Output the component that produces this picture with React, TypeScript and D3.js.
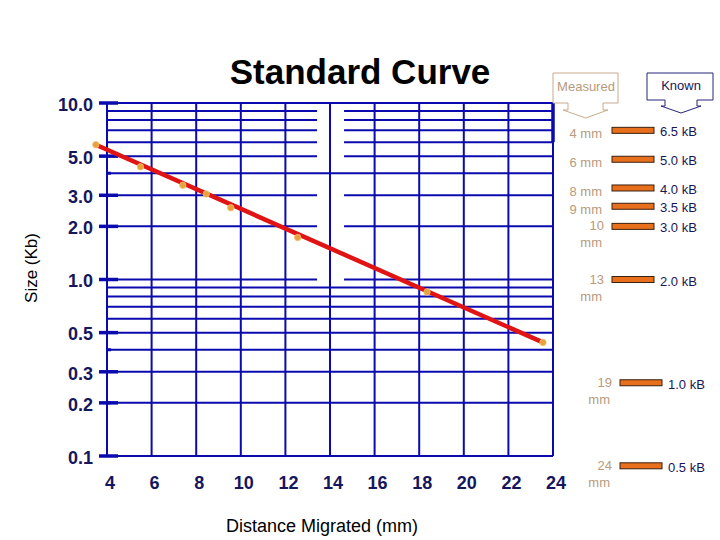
import * as d3 from "d3";

// measured points (distance in mm, size in Kb)
const distance = [3.5, 5.5, 7.4, 8.45, 9.55, 12.55, 18.35, 23.55];
const sizeKb = [5.8, 4.35, 3.42, 3.05, 2.55, 1.73, 0.85, 0.44];

// fitted line ends
const fitDistance = [3.5, 23.55];
const fitSize = [5.8, 0.44];

const xTicks = [4, 6, 8, 10, 12, 14, 16, 18, 20, 22, 24];
const yLabels = ["10.0", "5.0", "3.0", "2.0", "1.0", "0.5", "0.3", "0.2", "0.1"];
const yGrid = [10, 9, 8, 7, 6, 5, 4, 3, 2, 1, 0.9, 0.8, 0.7, 0.6, 0.5, 0.4, 0.3, 0.2, 0.1];
const yGapped = [9, 8, 7, 6, 5, 3, 2, 1];
const yMinor = [4, 0.4, 0.2];

// legend: marker sizes
const measuredLabels = ["4 mm", "6 mm", "8 mm", "9 mm", "10 mm", "13 mm", "19 mm", "24 mm"];
const knownLabels = ["6.5 kB", "5.0 kB", "4.0 kB", "3.5 kB", "3.0 kB", "2.0 kB", "1.0 kB", "0.5 kB"];
const legendAt = [7.0, 4.8, 3.3, 2.6, 2.0, 1.0, 0.26, 0.088];

const FONT = "'Liberation Sans', Arial, sans-serif";
const BLUE = "#0a0aae";
const NAVY = "#16165c";
const TAN = "#b89a7c";

export default function App() {
  const width = 720;
  const height = 540;

  const x = d3.scaleLinear().domain([4, 24]).range([107, 553]);
  const y = d3.scaleLog().domain([0.1, 10]).range([456, 103]);

  const gapL = x(13.42);
  const gapR = x(14.63);

  const fitLine = d3
    .line<number>()
    .x((d) => x(fitDistance[d]))
    .y((d) => y(fitSize[d]));

  return (
    <div style={{ position: "absolute", left: 0, top: 0 }}>
      <svg width={width} height={height} style={{ display: "block", background: "#fff" }}>
        {/* title */}
        <text x={360} y={84} textAnchor="middle" fontFamily={FONT} fontWeight="bold" fontSize={35} fill="#000">
          Standard Curve
        </text>

        {/* horizontal grid */}
        {yGrid.map((v) =>
          yGapped.includes(v) ? (
            <g key={"h" + v}>
              <line x1={x(4)} x2={gapL} y1={y(v)} y2={y(v)} stroke={BLUE} strokeWidth={2} />
              <line x1={gapR} x2={x(24)} y1={y(v)} y2={y(v)} stroke={BLUE} strokeWidth={2} />
            </g>
          ) : (
            <line key={"h" + v} x1={x(4)} x2={x(24)} y1={y(v)} y2={y(v)} stroke={BLUE} strokeWidth={2} />
          )
        )}

        {/* vertical grid */}
        {xTicks.map((t) => (
          <line key={"v" + t} x1={x(t)} x2={x(t)} y1={y(10)} y2={y(0.1)} stroke={BLUE} strokeWidth={2} />
        ))}
        <line x1={x(24)} x2={x(24)} y1={y(10)} y2={y(6)} stroke={BLUE} strokeWidth={3.5} />

        {/* y ticks */}
        {yLabels.map((l) => (
          <g key={"yt" + l}>
            <line x1={x(4) - 8} x2={x(4) + 11} y1={y(+l)} y2={y(+l)} stroke={BLUE} strokeWidth={3.5} />
            <text
              x={93}
              y={y(+l) + 3}
              textAnchor="end"
              dominantBaseline="middle"
              fontFamily={FONT}
              fontWeight="bold"
              fontSize={18}
              fill={NAVY}
            >
              {l}
            </text>
          </g>
        ))}
        {yMinor.map((v) => (
          <line key={"ym" + v} x1={x(4) - 1} x2={x(4) + 4} y1={y(v)} y2={y(v)} stroke={BLUE} strokeWidth={3} />
        ))}

        {/* x tick labels */}
        {xTicks.map((t) => (
          <text
            key={"xt" + t}
            x={x(t) + 3}
            y={489}
            textAnchor="middle"
            fontFamily={FONT}
            fontWeight="bold"
            fontSize={18}
            fill={NAVY}
          >
            {t}
          </text>
        ))}

        {/* axis titles */}
        <text x={322} y={532} textAnchor="middle" fontFamily={FONT} fontSize={18} fill="#000">
          Distance Migrated (mm)
        </text>
        <text
          transform={`translate(37,268) rotate(-90)`}
          textAnchor="middle"
          fontFamily={FONT}
          fontSize={17}
          fill="#000"
        >
          Size (Kb)
        </text>

        {/* fit line and points */}
        <path d={fitLine([0, 1]) ?? ""} stroke="#e01414" strokeWidth={4.5} fill="none" />
        {distance.map((d, i) => (
          <circle key={"p" + i} cx={x(d)} cy={y(sizeKb[i])} r={3.2} fill="#e8a23c" stroke="#f0c070" strokeWidth={0.8} />
        ))}

        {/* legend headers */}
        <path
          d="M553,73 H618 V103 H603 V110 H608 L585.5,118 L563,110 H568 V103 H553 Z"
          fill="#fff"
          stroke="#c8aa8c"
          strokeWidth={1}
        />
        <text x={586} y={91} textAnchor="middle" fontFamily={FONT} fontSize={13} fill={TAN}>
          Measured
        </text>
        <path
          d="M647,73 H713 V100 H697 V106 H701 L681,113 L661,106 H665 V100 H647 Z"
          fill="#fff"
          stroke="#24247a"
          strokeWidth={1}
        />
        <text x={681} y={90} textAnchor="middle" fontFamily={FONT} fontSize={13} fill={NAVY}>
          Known
        </text>

        {/* legend rows */}
        {measuredLabels.map((m, i) => {
          const cy = y(legendAt[i]);
          const bx = i >= 6 ? 620 : 612;
          const parts = m.split(" ");
          const wrap = parts[0].length > 1;
          return (
            <g key={"lg" + i}>
              <rect x={bx} y={cy - 3} width={42} height={6} fill="#e8701c" stroke="#3a2010" strokeWidth={1} />
              {wrap ? (
                <>
                  <text x={bx - 8} y={cy + 4} textAnchor="end" fontFamily={FONT} fontSize={13} fill={TAN}>
                    {parts[0]}
                  </text>
                  <text x={bx - 10} y={cy + 21} textAnchor="end" fontFamily={FONT} fontSize={13} fill={TAN}>
                    {parts[1]}
                  </text>
                </>
              ) : (
                <text x={bx - 10} y={cy + 8} textAnchor="end" fontFamily={FONT} fontSize={13} fill={TAN}>
                  {m}
                </text>
              )}
              <text x={bx + 48} y={cy + 6} fontFamily={FONT} fontSize={13} fill={NAVY}>
                {knownLabels[i]}
              </text>
            </g>
          );
        })}
      </svg>
    </div>
  );
}
